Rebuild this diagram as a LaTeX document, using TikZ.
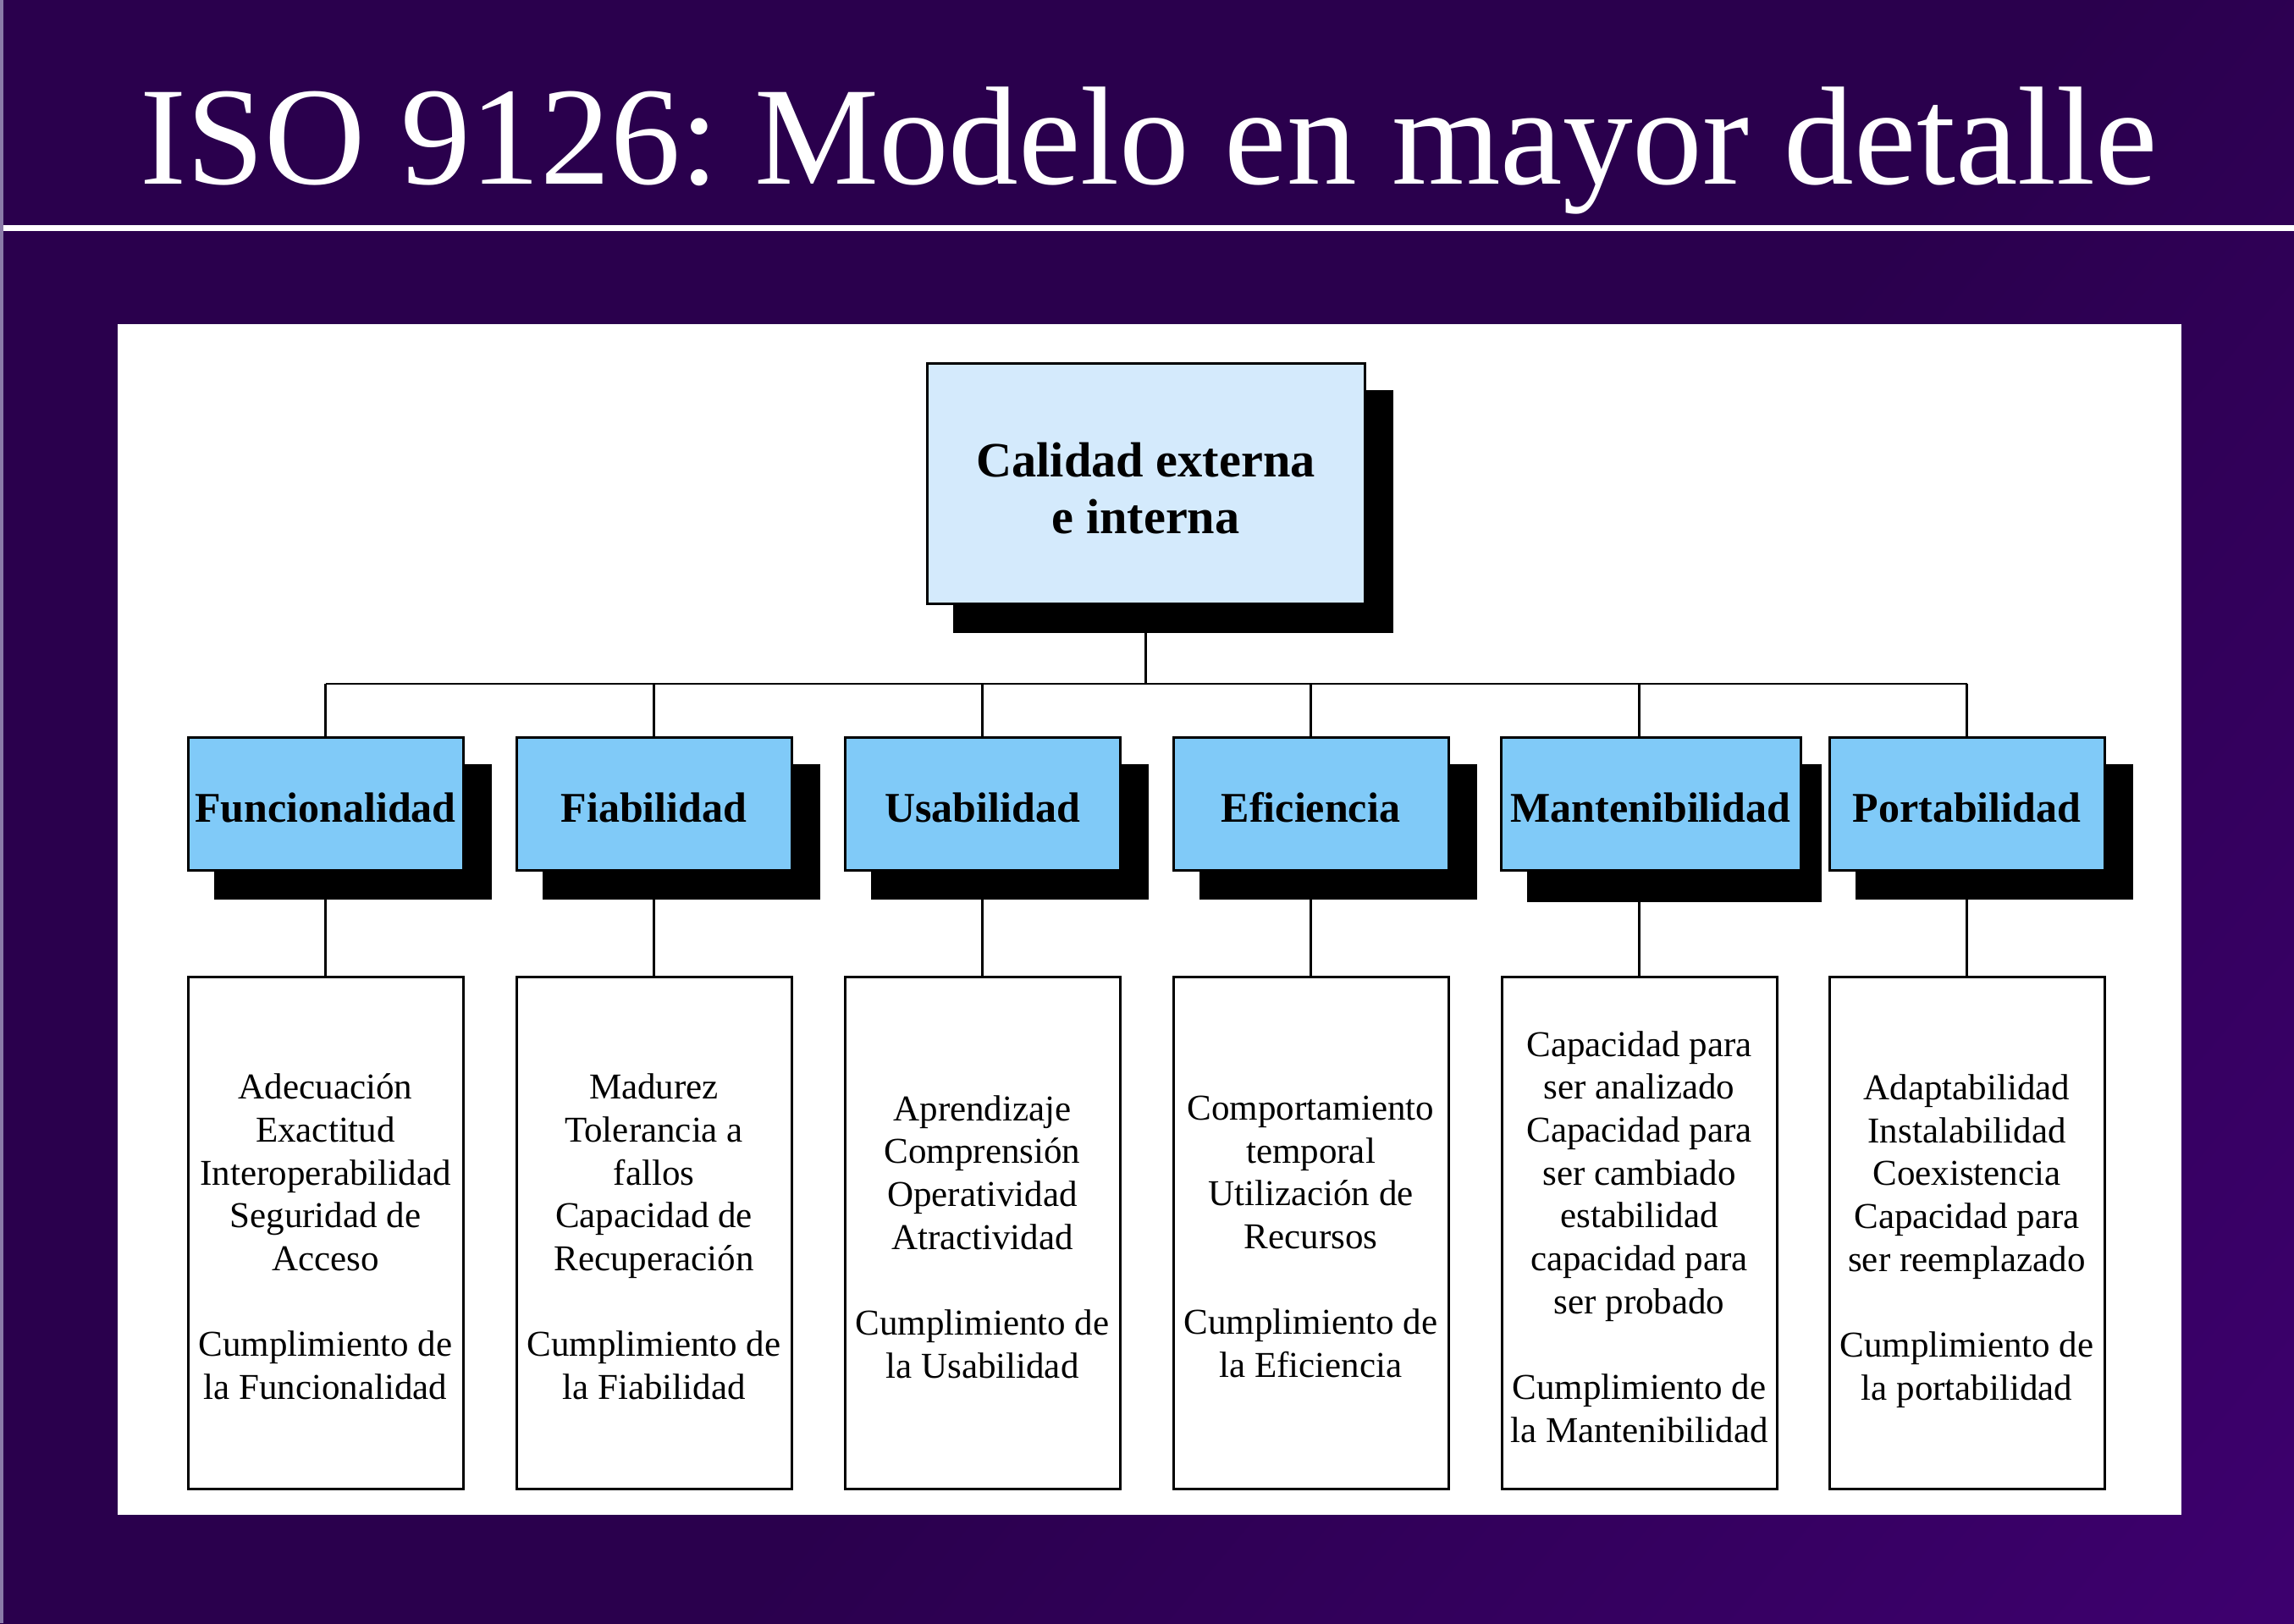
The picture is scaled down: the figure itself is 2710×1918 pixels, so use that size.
\documentclass[tikz,border=0pt]{standalone}
\usepackage{fontspec}
\setmainfont{Liberation Serif}
\usetikzlibrary{calc}
\definecolor{bgdark}{HTML}{2A004D}
\definecolor{bglight}{HTML}{47007F}
\definecolor{edgecol}{HTML}{8A7AA8}
\definecolor{topfill}{HTML}{D4EAFC}
\definecolor{catfill}{HTML}{80CAF8}
\pgfdeclarehorizontalshading{bgshade}{100bp}{color(0bp)=(bgdark); color(55bp)=(bgdark); color(100bp)=(bglight)}
\pgfdeclarelayer{bglayer}
\pgfdeclarelayer{shadlayer}
\pgfsetlayers{bglayer,shadlayer,main}
\frenchspacing
\begin{document}
\begin{tikzpicture}[x=0.3pt,y=-0.3pt,
  boxline/.style={draw=black,line width=0.9pt},
  topbox/.style={boxline,fill=topfill,minimum width=155.1pt,minimum height=85.2pt,inner sep=0pt},
  toptext/.style={align=center,inner sep=0pt,font=\bfseries\fontsize{17.5}{20}\selectfont},
  catbox/.style={boxline,fill=catfill,minimum width=97.5pt,minimum height=47.1pt,inner sep=0pt},
  cattext/.style={inner sep=0pt,font=\bfseries\fontsize{15}{18}\selectfont},
  subbox/.style={boxline,fill=white,minimum width=97.5pt,minimum height=181.5pt,inner sep=0pt},
  subtext/.style={align=center,inner sep=0pt,font=\fontsize{12.9}{15.2}\selectfont},
  conn/.style={draw=black,line width=0.7pt}]

\useasboundingbox (0,0) rectangle (2710,1918);

% title
\node[text=white,anchor=base,inner sep=0pt,font=\fontsize{49.6}{60}\selectfont] (title) at (1357,217) {ISO 9126: Modelo en mayor detalle};

% boxes
\node[topbox] (top) at (1353.5,571) {};

\node[catbox] (f1) at (384.5,949.5) {};
\node[catbox] (f2) at (772.5,949.5) {};
\node[catbox] (f3) at (1160.5,949.5) {};
\node[catbox] (f4) at (1548.5,949.5) {};
\node[catbox,minimum width=106.2pt] (f5) at (1950,949.5) {};
\node[catbox] (f6) at (2323.5,949.5) {};

\node[subbox] (s1) at (384.5,1456.5) {};
\node[subbox] (s2) at (772.5,1456.5) {};
\node[subbox] (s3) at (1160.5,1456.5) {};
\node[subbox] (s4) at (1548.5,1456.5) {};
\node[subbox] (s5) at (1936.5,1456.5) {};
\node[subbox] (s6) at (2323.5,1456.5) {};

% texts
\node[toptext] (toplabel) at ($(top.center)+(0,6)$) {Calidad externa\\e interna};

\node[cattext] (c1) at ($(f1.center)+(0,5)$) {Funcionalidad};
\node[cattext] (c2) at ($(f2.center)+(0,5)$) {Fiabilidad};
\node[cattext] (c3) at ($(f3.center)+(0,5)$) {Usabilidad};
\node[cattext] (c4) at ($(f4.center)+(0,5)$) {Eficiencia};
\node[cattext] (c5) at ($(f5.center)+(0,5)$) {Mantenibilidad};
\node[cattext] (c6) at ($(f6.center)+(0,5)$) {Portabilidad};

\node[subtext] (t1) at ($(s1.center)+(0,5)$) {Adecuación\\Exactitud\\Interoperabilidad\\Seguridad de\\Acceso\\\mbox{}\\Cumplimiento de\\la Funcionalidad};
\node[subtext] (t2) at ($(s2.center)+(0,5)$) {Madurez\\Tolerancia a\\fallos\\Capacidad de\\Recuperación\\\mbox{}\\Cumplimiento de\\la Fiabilidad};
\node[subtext] (t3) at ($(s3.center)+(0,5)$) {Aprendizaje\\Comprensión\\Operatividad\\Atractividad\\\mbox{}\\Cumplimiento de\\la Usabilidad};
\node[subtext] (t4) at ($(s4.center)+(0,5)$) {Comportamiento\\temporal\\Utilización de\\Recursos\\\mbox{}\\Cumplimiento de\\la Eficiencia};
\node[subtext] (t5) at ($(s5.center)+(0,5)$) {Capacidad para\\ser analizado\\Capacidad para\\ser cambiado\\estabilidad\\capacidad para\\ser probado\\\mbox{}\\Cumplimiento de\\la Mantenibilidad};
\node[subtext] (t6) at ($(s6.center)+(0,10)$) {Adaptabilidad\\Instalabilidad\\Coexistencia\\Capacidad para\\ser reemplazado\\\mbox{}\\Cumplimiento de\\la portabilidad};

% connectors
\coordinate (bus) at (1355,808);
\draw[conn] (top.south) -- (top.south |- bus);
\draw[conn] (s1.north |- bus) -- (s6.north |- bus);
\foreach \i in {1,...,6}{
  \draw[conn] (s\i.north |- bus) -- (s\i.north |- f\i.north);
  \draw[conn] (s\i.north |- f\i.south) -- (s\i.north);
}

% shadows
\begin{pgfonlayer}{shadlayer}
\foreach \n in {top,f1,f2,f3,f4,f6}{
  \fill[black] ($(\n.north west)+(32,33)$) rectangle ($(\n.south east)+(32,33)$);
}
\fill[black] ($(f5.north west)+(32,33)$) rectangle ($(f5.south east)+(23,36)$);
\end{pgfonlayer}

% background
\begin{pgfonlayer}{bglayer}
\shade[shading=bgshade,shading angle=-40] (0,0) rectangle (2710,1918);
\fill[edgecol] (0,0) rectangle (4,1918);
\fill[white] (4,266) rectangle (2710,273);
\fill[white] (139,383) rectangle (2577,1790);
\end{pgfonlayer}
\end{tikzpicture}
\end{document}
